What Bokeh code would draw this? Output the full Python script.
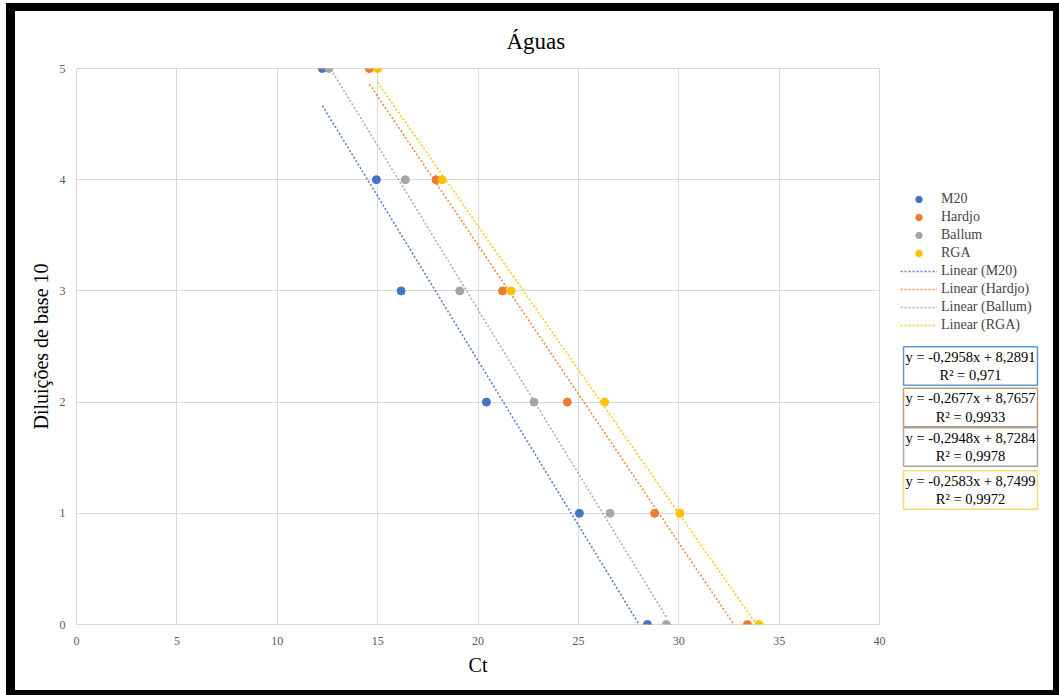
from bokeh.plotting import figure
from bokeh.models import Range1d, Legend, LegendItem, Label, FixedTicker
from bokeh.layouts import column, row
from bokeh.embed import file_html
from bokeh.resources import INLINE

# ---------------- data ----------------
title_text = "Águas"
x_label = "Ct"
y_label = "Diluições de base 10"
series_names = ["M20", "Hardjo", "Ballum", "RGA"]
dilutions = [5, 4, 3, 2, 1, 0]
m20_ct = [12.25, 14.94, 16.17, 20.42, 25.05, 28.44]
hardjo_ct = [14.59, 17.91, 21.22, 24.45, 28.80, 33.42]
ballum_ct = [12.57, 16.38, 19.09, 22.79, 26.58, 29.38]
rga_ct = [15.00, 18.21, 21.65, 26.31, 30.06, 34.00]
slopes = [-0.2958, -0.2677, -0.2948, -0.2583]
intercepts = [8.2891, 8.7657, 8.7284, 8.7499]
r_squared = [0.971, 0.9933, 0.9978, 0.9972]
x_ticks = [0, 5, 10, 15, 20, 25, 30, 35, 40]
y_ticks = [0, 1, 2, 3, 4, 5]

# ---------------- style ----------------
colors = ["#4472C4", "#ED7D31", "#A5A5A5", "#FFC000"]
box_colors = ["#5B9BD5", "#C49A6C", "#A5A5A5", "#FFD966"]
SERIF = "Liberation Serif"
FIG_H = 679
FL, FT, FW, FH = 61, 57, 803, 556
FB = FIG_H - FT - FH
RPAD = 8
MAIN_W = FL + FW + RPAD
SIDE_W = 1038 - MAIN_W

p = figure(width=MAIN_W, height=FIG_H,
           x_range=Range1d(0, 40), y_range=Range1d(0, 5),
           output_backend="svg", toolbar_location=None,
           min_border_left=FL, min_border_top=FT,
           min_border_right=RPAD, min_border_bottom=FB)
p.background_fill_color = "white"
p.border_fill_color = "white"
p.outline_line_color = "#D9D9D9"

p.title.text = title_text
p.title.text_font = SERIF
p.title.text_font_size = "23px"
p.title.text_font_style = "normal"
p.title.text_color = "black"
p.title.align = "left"
p.title.offset = 430
p.title.standoff = 30

for ax in (p.xaxis[0], p.yaxis[0]):
    ax.axis_line_color = None
    ax.major_tick_line_color = None
    ax.minor_tick_line_color = None
    ax.major_label_text_font = SERIF
    ax.major_label_text_font_size = "12px"
    ax.major_label_text_color = "#595959"
    ax.axis_label_text_font = SERIF
    ax.axis_label_text_font_size = "20px"
    ax.axis_label_text_font_style = "normal"
    ax.axis_label_text_color = "#000000"
p.xaxis.ticker = FixedTicker(ticks=x_ticks)
p.yaxis.ticker = FixedTicker(ticks=y_ticks)
p.xaxis.axis_label = x_label
p.yaxis.axis_label = y_label
p.xaxis.major_label_standoff = 6
p.xaxis.axis_label_standoff = 6
p.yaxis.major_label_standoff = 5
p.yaxis.axis_label_standoff = 5
p.xgrid.ticker = FixedTicker(ticks=x_ticks)
p.ygrid.ticker = FixedTicker(ticks=y_ticks)
p.xgrid.grid_line_color = "#D9D9D9"
p.ygrid.grid_line_color = "#D9D9D9"

# side panel for legend and equations
s = figure(width=SIDE_W, height=FIG_H, x_range=Range1d(0, 1), y_range=Range1d(0, 1),
           output_backend="svg", toolbar_location=None,
           x_axis_type=None, y_axis_type=None,
           min_border_left=0, min_border_right=0, min_border_top=FT, min_border_bottom=FB)
s.grid.visible = False
s.outline_line_color = None
s.background_fill_color = "white"
s.border_fill_color = "white"

all_ct = [m20_ct, hardjo_ct, ballum_ct, rga_ct]
point_items, line_items = [], []
for name, ct, col, m, b in zip(series_names, all_ct, colors, slopes, intercepts):
    xs = [min(ct), max(ct)]
    ys = [m * x + b for x in xs]
    p.line(xs, ys, line_color=col, line_width=1.6, line_dash="2 2", line_alpha=0.9)
    p.scatter(ct, dilutions, size=8, fill_color=col, line_color=col)
    # off-range proxies in the side panel, used only for the legend glyphs
    lr = s.line([-5, -4], [-5, -4], line_color=col, line_width=1.6, line_dash="2 2", line_alpha=0.9)
    sr = s.scatter([-5], [-5], size=8, fill_color=col, line_color=col)
    point_items.append(LegendItem(label=name, renderers=[sr]))
    line_items.append(LegendItem(label=f"Linear ({name})", renderers=[lr]))

SIDE_X0 = 15 + MAIN_W          # window x of side frame left
SIDE_Y1 = 11 + FT + FH         # window y of side frame bottom

legend = Legend(items=point_items + line_items, location=(900 - SIDE_X0, SIDE_Y1 - 333),
                margin=0, padding=0, spacing=2,
                glyph_width=37, glyph_height=16, label_height=16, label_standoff=4,
                label_text_font=SERIF, label_text_font_size="14px",
                border_line_color=None, background_fill_alpha=0)
s.add_layout(legend)

# equation boxes
box_centers_y = [365.5, 407, 446.5, 489.5]
for m, b, r2, bc, cy in zip(slopes, intercepts, r_squared, box_colors, box_centers_y):
    eq = f"y = -{abs(m):.4f}x + {b:.4f}".replace(".", ",")
    r2t = "R² = " + str(r2).replace(".", ",")
    s.add_layout(Label(x=970 - SIDE_X0, y=SIDE_Y1 - cy, x_units="screen", y_units="screen",
                       text=eq + "\n" + r2t, text_align="center", text_baseline="middle",
                       text_font=SERIF, text_font_size="14.5px", text_color="black",
                       text_line_height=1.15,
                       border_line_color=bc, border_line_width=1.5,
                       background_fill_color="white", padding=2))

inner = row(p, s, styles={"background-color": "white"})
layout = column(inner, styles={"background-color": "black",
                               "padding": "8px 6px 5px 9px",
                               "margin": "3px 0 0 6px"})

open("out.html", "w").write(file_html(layout, INLINE))
